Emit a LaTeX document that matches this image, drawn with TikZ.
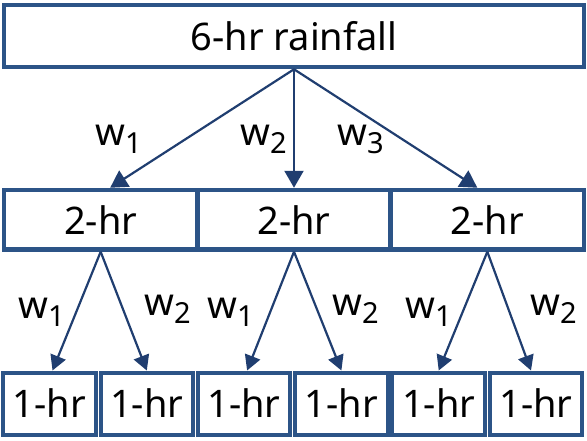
\documentclass[tikz,border=0pt]{standalone}
\usepackage{fontspec}
\setmainfont{Noto Sans}
\usetikzlibrary{arrows.meta,calc}
\definecolor{boxblue}{RGB}{44,84,135}
\definecolor{arrblue}{RGB}{32,62,112}
\newcommand{\wsub}[1]{w\raisebox{-8pt}{\fontsize{29}{30}\selectfont #1}}
\begin{document}
\begin{tikzpicture}[x=1pt,y=-1pt,
  box/.style={draw=boxblue, line width=4.5pt, fill=white, inner sep=0pt, font=\fontsize{38}{40}\selectfont},
  hrbox/.style={box, minimum width=193.3pt, minimum height=59.5pt},
  onebox/.style={box, line width=4pt, minimum width=92.5pt, minimum height=62pt},
  lbl/.style={inner sep=0pt, anchor=base west, font=\fontsize{38}{40}\selectfont},
  arr/.style={draw=arrblue, line width=2.2pt, -{Triangle[length=17pt,width=19pt]}},
  arrs/.style={draw=arrblue, line width=2.2pt, -{Triangle[length=15pt,width=16pt]}}]
\useasboundingbox (0,0) rectangle (587,440);
% boxes
\node[box, minimum width=580pt, minimum height=62pt] (top) at (294,36) {6-hr rainfall};
\node[hrbox] (m1) at (100.67,219.75) {2-hr};
\node[hrbox] (m2) at (294,219.75) {2-hr};
\node[hrbox] (m3) at (487.33,219.75) {2-hr};
\foreach \i in {0,...,5}{
  \node[onebox] (b\i) at ({49.5+97.3*\i},403.5) {1-hr};
}
% top arrows
\draw[arr] (top.south) -- ($(m1.north)+(9.5,0)$);
\draw[arr] (top.south) -- (m2.north);
\draw[arr] (top.south) -- ($(m3.north)+(-10,0)$);
% bottom arrows
\draw[arrs] (m1.south) -- ($(b0.north)+(3,0)$);
\draw[arrs] (m1.south) -- (b1.north);
\draw[arrs] (m2.south) -- ($(b2.north)+(3,0)$);
\draw[arrs] (m2.south) -- (b3.north);
\draw[arrs] (m3.south) -- (b4.north);
\draw[arrs] (m3.south) -- ($(b5.north)+(-5,0)$);
% labels
\node[lbl] (t1) at (95,145) {\wsub{1}};
\node[lbl] (t2) at (240,145) {\wsub{2}};
\node[lbl] (t3) at (337,145) {\wsub{3}};
\node[lbl] (s1) at (18,318) {\wsub{1}};
\node[lbl] (s2) at (144,315) {\wsub{2}};
\node[lbl] (s3) at (207,318) {\wsub{1}};
\node[lbl] (s4) at (332,315) {\wsub{2}};
\node[lbl] (s5) at (405,318) {\wsub{1}};
\node[lbl] (s6) at (530,315) {\wsub{2}};
\end{tikzpicture}
\end{document}
